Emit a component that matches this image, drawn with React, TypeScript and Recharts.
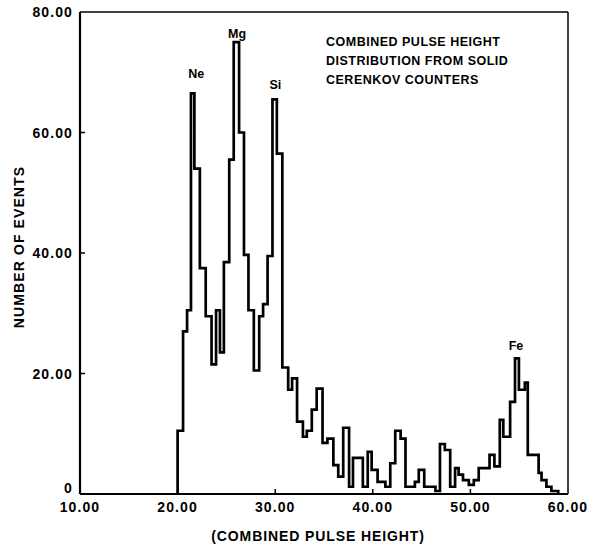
import React from 'react';
import { LineChart, Line, XAxis, YAxis, ReferenceLine, ReferenceDot } from 'recharts';

const binStarts = [
  20.0, 20.56, 20.97, 21.37, 21.72, 22.28, 22.88, 23.48, 23.94, 24.34, 24.74, 25.29, 25.75, 26.3,
  26.8, 27.26, 27.81, 28.36, 28.76, 29.22, 29.72, 30.17, 30.73, 31.33, 31.73, 32.24, 32.84, 33.24,
  33.75, 34.25, 34.85, 35.35, 35.96, 36.46, 36.97, 37.57, 37.97, 38.98, 39.48, 39.88, 40.49, 41.29, 41.79,
  42.3, 42.85, 43.35, 44.31, 44.71, 45.27, 46.42, 46.88, 47.38, 47.93, 48.43, 48.79, 49.24, 49.84,
  50.35, 50.85, 51.96, 52.46, 53.01, 53.37, 54.07, 54.57, 54.97, 55.58, 55.88, 56.99, 57.29, 57.79, 58.3,
  59.0,
];
const counts = [
  10.5, 27, 30.5, 66.5, 54, 37.5, 29.5, 21.5, 30.5, 23.5, 38.5, 55.5, 75, 60,
  39.7, 30.5, 20.5, 29.5, 31.5, 39.5, 65.5, 56.5, 21, 17.3, 19.2, 12, 9.5, 10.5,
  14, 17.5, 8.5, 9.2, 4.8, 2.9, 11, 1.2, 6, 1.2, 7, 4, 2, 1.2, 5.1,
  10.5, 9.2, 1.2, 2, 4, 1.2, 0.5, 8.3, 7.3, 1.2, 4.3, 3.2, 2.3, 1.5,
  2.3, 4.3, 6.5, 4.6, 12.3, 9.5, 15.3, 22.5, 17.3, 18.5, 6.5, 3.5, 2.3, 1.2, 0.5,
  0,
];
const xTicks = [10, 20, 30, 40, 50, 60];
const yTicks = [0, 20, 40, 60, 80];
const peakNames = ['Ne', 'Mg', 'Si', 'Fe'];
const peakX = [21.91, 26.1, 30.02, 54.67];
const peakY = [69.7, 76.5, 67.9, 24.6];
const titleLines = ['COMBINED PULSE HEIGHT', 'DISTRIBUTION FROM SOLID', 'CERENKOV COUNTERS'];
const xTitle = '(COMBINED PULSE HEIGHT)';
const yTitle = 'NUMBER OF EVENTS';

const data = [
  { x: binStarts[0], y: 0 },
  ...binStarts.map((x, i) => ({ x, y: counts[i] })),
];

const FONT = '"Liberation Sans", Arial, Helvetica, sans-serif';
const fmt = (v: number) => (v === 0 ? '0' : v.toFixed(2));

const XTick = (props: any) => {
  const { x, y, payload } = props;
  return (
    <g>
      {payload.value !== 10 && payload.value !== 60 && (
        <line x1={x} y1={y} x2={x} y2={y - 5} stroke="#000" strokeWidth={1.5} />
      )}
      <text x={x} y={y + 18} textAnchor="middle" fontFamily={FONT} fontWeight="bold" fontSize={14} letterSpacing={1.1} fill="#000">
        {fmt(payload.value)}
      </text>
    </g>
  );
};

const YTick = (props: any) => {
  const { x, y, payload } = props;
  const v = payload.value;
  return (
    <g>
      {v !== 0 && v !== 80 && <line x1={x} y1={y} x2={x + 5} y2={y} stroke="#000" strokeWidth={1.5} />}
      <text x={x - 7} y={v === 0 ? y - 1 : y + 5} textAnchor="end" fontFamily={FONT} fontWeight="bold" fontSize={14} letterSpacing={1.1} fill="#000">
        {fmt(v)}
      </text>
    </g>
  );
};

export default function App() {
  return (
    <div style={{ position: 'absolute', left: 0, top: 0, width: 591, height: 549, background: '#fff' }}>
      <LineChart width={591} height={549} data={data} margin={{ top: 12, right: 23, bottom: 0, left: 0 }}>
        <XAxis
          type="number"
          dataKey="x"
          domain={[10, 60]}
          ticks={xTicks}
          tickSize={0}
          tickMargin={0}
          tick={<XTick />}
          axisLine={{ stroke: '#000', strokeWidth: 2 }}
          tickLine={false}
          height={55}
          allowDataOverflow
        />
        <YAxis
          type="number"
          domain={[0, 80]}
          ticks={yTicks}
          tickSize={0}
          tickMargin={0}
          tick={<YTick />}
          axisLine={{ stroke: '#000', strokeWidth: 2.2 }}
          tickLine={false}
          width={80}
          allowDataOverflow
        />
        <ReferenceLine y={80} stroke="#000" strokeWidth={1.5} />
        <ReferenceLine x={60} stroke="#000" strokeWidth={1.5} />
        <Line
          type="stepAfter"
          dataKey="y"
          stroke="#000"
          strokeWidth={2.7}
          dot={false}
          isAnimationActive={false}
          strokeLinejoin="miter"
        />
        {peakNames.map((n, i) => (
          <ReferenceDot
            key={n}
            x={peakX[i]}
            y={peakY[i]}
            r={1}
            fill="none"
            stroke="none"
            label={{ value: n, position: 'center', fontFamily: FONT, fontWeight: 'bold', fontSize: 12.5, fill: '#000' }}
          />
        ))}
      </LineChart>
      <div
        style={{
          position: 'absolute',
          left: 326,
          top: 33,
          fontFamily: FONT,
          fontWeight: 'bold',
          fontSize: 12.5,
          letterSpacing: '0.5px',
          lineHeight: '19px',
          color: '#000',
          whiteSpace: 'nowrap',
        }}
      >
        {titleLines.map((t) => (
          <div key={t}>{t}</div>
        ))}
      </div>
      <div
        style={{
          position: 'absolute',
          left: 318,
          top: 536,
          transform: 'translate(-50%, -50%)',
          fontFamily: FONT,
          fontWeight: 'bold',
          fontSize: 14,
          letterSpacing: '0.9px',
          color: '#000',
          whiteSpace: 'nowrap',
        }}
      >
        {xTitle}
      </div>
      <div
        style={{
          position: 'absolute',
          left: 18.5,
          top: 246.5,
          transform: 'translate(-50%, -50%) rotate(-90deg)',
          fontFamily: FONT,
          fontWeight: 'bold',
          fontSize: 14,
          letterSpacing: '1.1px',
          color: '#000',
          whiteSpace: 'nowrap',
        }}
      >
        {yTitle}
      </div>
    </div>
  );
}
